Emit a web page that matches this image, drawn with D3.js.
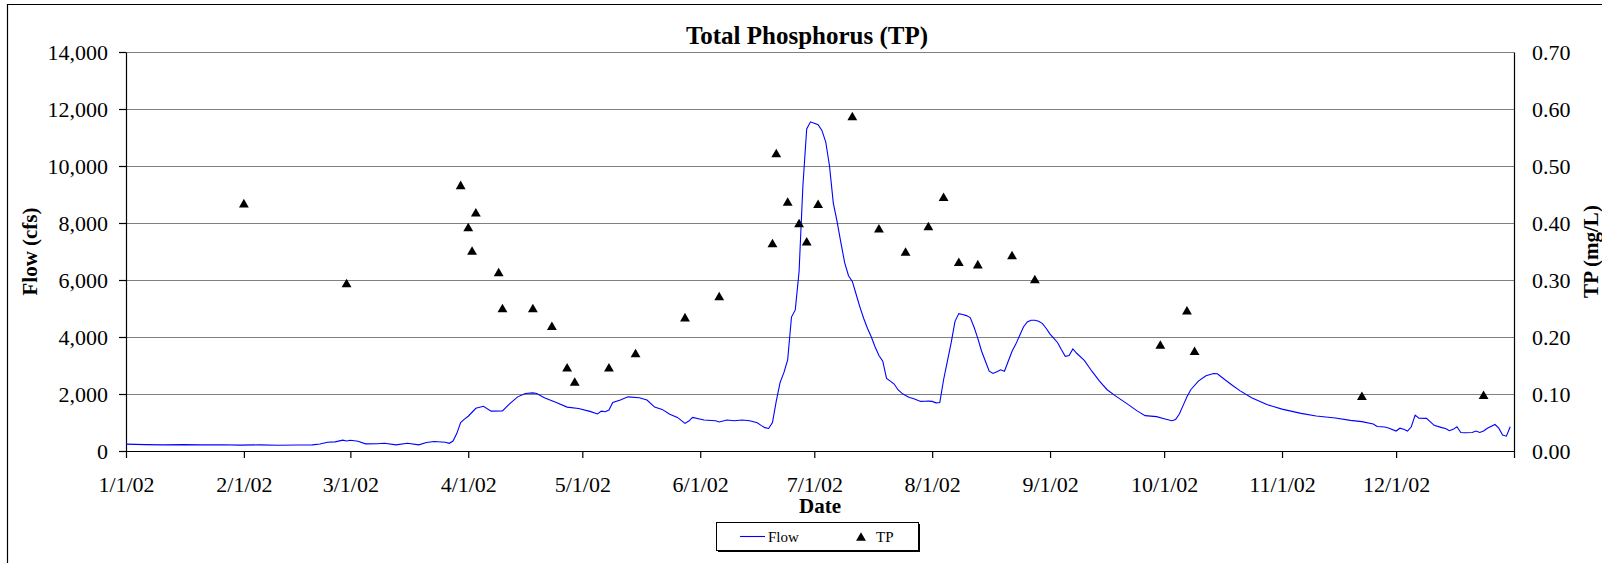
<!DOCTYPE html>
<html>
<head>
<meta charset="utf-8">
<title>Total Phosphorus (TP)</title>
<script src="https://cdn.jsdelivr.net/npm/d3@7"></script>
<style>
   body { margin: 0; background: #fff; }
   svg { display: block; font-family: "Liberation Serif", "Times New Roman", serif; }
</style>
</head>
<body>
<script>
'use strict';

// daily flow (cfs)
var flow = [
   ["2002-01-01", 240], ["2002-01-06", 225], ["2002-01-11", 215], ["2002-01-16", 225],
   ["2002-01-21", 215], ["2002-01-26", 220], ["2002-01-31", 205], ["2002-02-05", 215],
   ["2002-02-10", 200], ["2002-02-15", 210], ["2002-02-19", 215], ["2002-02-21", 246],
   ["2002-02-23", 305], ["2002-02-25", 320], ["2002-02-27", 380], ["2002-02-28", 350],
   ["2002-03-01", 375], ["2002-03-03", 340], ["2002-03-05", 250], ["2002-03-08", 255],
   ["2002-03-10", 270], ["2002-03-13", 215], ["2002-03-16", 270], ["2002-03-19", 215],
   ["2002-03-21", 300], ["2002-03-23", 335], ["2002-03-26", 305], ["2002-03-27", 270],
   ["2002-03-28", 350], ["2002-03-29", 620], ["2002-03-30", 1000], ["2002-03-31", 1120],
   ["2002-04-01", 1220], ["2002-04-03", 1500], ["2002-04-05", 1570], ["2002-04-07", 1400],
   ["2002-04-10", 1405], ["2002-04-12", 1670], ["2002-04-14", 1900], ["2002-04-16", 2020],
   ["2002-04-18", 2040], ["2002-04-19", 2020], ["2002-04-21", 1870], ["2002-04-24", 1710],
   ["2002-04-27", 1540], ["2002-04-30", 1490], ["2002-05-03", 1390], ["2002-05-05", 1300],
   ["2002-05-06", 1400], ["2002-05-07", 1380], ["2002-05-08", 1440], ["2002-05-09", 1700],
   ["2002-05-11", 1790], ["2002-05-13", 1900], ["2002-05-16", 1870], ["2002-05-18", 1790],
   ["2002-05-20", 1540], ["2002-05-22", 1460], ["2002-05-24", 1290], ["2002-05-26", 1180],
   ["2002-05-28", 970], ["2002-05-29", 1050], ["2002-05-30", 1180], ["2002-06-02", 1090],
   ["2002-06-05", 1064], ["2002-06-06", 1020], ["2002-06-08", 1090], ["2002-06-10", 1064],
   ["2002-06-12", 1090], ["2002-06-14", 1064], ["2002-06-16", 990], ["2002-06-17", 900],
   ["2002-06-18", 820], ["2002-06-19", 790], ["2002-06-20", 1000], ["2002-06-21", 1750],
   ["2002-06-22", 2400], ["2002-06-23", 2750], ["2002-06-24", 3200], ["2002-06-25", 4700],
   ["2002-06-26", 4950], ["2002-06-27", 6300], ["2002-06-28", 9300], ["2002-06-29", 11300],
   ["2002-06-30", 11550], ["2002-07-01", 11500], ["2002-07-02", 11450], ["2002-07-03", 11250],
   ["2002-07-04", 10850], ["2002-07-05", 10000], ["2002-07-06", 8700], ["2002-07-07", 8050],
   ["2002-07-08", 7300], ["2002-07-09", 6600], ["2002-07-10", 6150], ["2002-07-11", 5950],
   ["2002-07-12", 5500], ["2002-07-13", 5050], ["2002-07-14", 4650], ["2002-07-15", 4300],
   ["2002-07-16", 4000], ["2002-07-17", 3650], ["2002-07-18", 3350], ["2002-07-19", 3150],
   ["2002-07-20", 2550], ["2002-07-21", 2450], ["2002-07-22", 2350], ["2002-07-23", 2150],
   ["2002-07-24", 2030], ["2002-07-25", 1950], ["2002-07-26", 1880], ["2002-07-27", 1840],
   ["2002-07-28", 1790], ["2002-07-29", 1740], ["2002-07-30", 1745], ["2002-07-31", 1750],
   ["2002-08-01", 1740], ["2002-08-02", 1690], ["2002-08-03", 1700], ["2002-08-04", 2500],
   ["2002-08-05", 3150], ["2002-08-06", 3800], ["2002-08-07", 4550], ["2002-08-08", 4820],
   ["2002-08-09", 4790], ["2002-08-10", 4750], ["2002-08-11", 4680], ["2002-08-12", 4350],
   ["2002-08-13", 3950], ["2002-08-14", 3500], ["2002-08-15", 3150], ["2002-08-16", 2800],
   ["2002-08-17", 2720], ["2002-08-18", 2780], ["2002-08-19", 2850], ["2002-08-20", 2800],
   ["2002-08-21", 3150], ["2002-08-22", 3500], ["2002-08-23", 3750], ["2002-08-24", 4050],
   ["2002-08-25", 4350], ["2002-08-26", 4530], ["2002-08-27", 4590], ["2002-08-28", 4590],
   ["2002-08-29", 4550], ["2002-08-30", 4470], ["2002-08-31", 4300], ["2002-09-01", 4100],
   ["2002-09-02", 3950], ["2002-09-03", 3800], ["2002-09-04", 3550], ["2002-09-05", 3320],
   ["2002-09-06", 3350], ["2002-09-07", 3580], ["2002-09-08", 3430], ["2002-09-10", 3180],
   ["2002-09-12", 2800], ["2002-09-14", 2450], ["2002-09-16", 2150], ["2002-09-18", 1950],
   ["2002-09-21", 1680], ["2002-09-24", 1400], ["2002-09-26", 1240], ["2002-09-29", 1205],
   ["2002-10-01", 1130], ["2002-10-03", 1060], ["2002-10-04", 1100], ["2002-10-05", 1300],
   ["2002-10-06", 1600], ["2002-10-07", 1900], ["2002-10-08", 2150], ["2002-10-10", 2450],
   ["2002-10-12", 2640], ["2002-10-14", 2720], ["2002-10-15", 2710], ["2002-10-17", 2500],
   ["2002-10-19", 2300], ["2002-10-21", 2110], ["2002-10-24", 1870], ["2002-10-28", 1630],
   ["2002-11-01", 1470], ["2002-11-06", 1320], ["2002-11-10", 1230], ["2002-11-15", 1160],
   ["2002-11-19", 1075], ["2002-11-22", 1030], ["2002-11-25", 950], ["2002-11-26", 860],
   ["2002-11-28", 840], ["2002-11-29", 810], ["2002-12-01", 700], ["2002-12-02", 800],
   ["2002-12-03", 760], ["2002-12-04", 700], ["2002-12-05", 850], ["2002-12-06", 1260],
   ["2002-12-07", 1150], ["2002-12-09", 1146], ["2002-12-11", 900], ["2002-12-13", 820],
   ["2002-12-14", 790], ["2002-12-15", 710], ["2002-12-16", 760], ["2002-12-17", 850],
   ["2002-12-18", 650], ["2002-12-19", 640], ["2002-12-21", 650], ["2002-12-22", 700],
   ["2002-12-23", 650], ["2002-12-24", 700], ["2002-12-25", 800], ["2002-12-27", 930],
   ["2002-12-28", 800], ["2002-12-29", 560], ["2002-12-30", 520], ["2002-12-31", 850]
];

// grab samples (mg/L)
var tp = [
   ["2002-02-01", 0.435], ["2002-02-28", 0.295], ["2002-03-30", 0.467], ["2002-04-01", 0.393],
   ["2002-04-02", 0.352], ["2002-04-03", 0.419], ["2002-04-09", 0.314], ["2002-04-10", 0.251],
   ["2002-04-18", 0.251], ["2002-04-23", 0.220], ["2002-04-27", 0.147], ["2002-04-29", 0.122],
   ["2002-05-08", 0.147], ["2002-05-15", 0.172], ["2002-05-28", 0.235], ["2002-06-06", 0.272],
   ["2002-06-20", 0.365], ["2002-06-21", 0.523], ["2002-06-24", 0.438], ["2002-06-27", 0.400],
   ["2002-06-29", 0.368], ["2002-07-02", 0.434], ["2002-07-11", 0.588], ["2002-07-18", 0.391],
   ["2002-07-25", 0.350], ["2002-07-31", 0.395], ["2002-08-04", 0.446], ["2002-08-08", 0.332],
   ["2002-08-13", 0.328], ["2002-08-22", 0.344], ["2002-08-28", 0.302], ["2002-09-30", 0.187],
   ["2002-10-07", 0.247], ["2002-10-09", 0.176], ["2002-11-22", 0.097], ["2002-12-24", 0.099]
];

var flowTicks = [0, 2000, 4000, 6000, 8000, 10000, 12000, 14000];
var tpTicks = [0, 0.1, 0.2, 0.3, 0.4, 0.5, 0.6, 0.7];
var monthTicks = ["2002-01-01", "2002-02-01", "2002-03-01", "2002-04-01", "2002-05-01",
   "2002-06-01", "2002-07-01", "2002-08-01", "2002-09-01", "2002-10-01", "2002-11-01",
   "2002-12-01", "2003-01-01"];

var parseDate = d3.utcParse("%Y-%m-%d");
var dateLabel = d3.utcFormat("%-m/%-d/%y");

var width = 1602, height = 563;
var plot = { left: 126, right: 1514, top: 52, bottom: 451 };

var flowData = flow.map(function(d){ return { date: parseDate(d[0]), value: d[1] }; });
var tpData = tp.map(function(d){ return { date: parseDate(d[0]), value: d[1] }; });
var monthDates = monthTicks.map(parseDate);

var x = d3.scaleUtc()
   .domain([monthDates[0], monthDates[monthDates.length - 1]])
   .range([plot.left, plot.right]);
var yFlow = d3.scaleLinear().domain([0, 14000]).range([plot.bottom, plot.top]);
var yTP = d3.scaleLinear().domain([0, 0.7]).range([plot.bottom, plot.top]);

var svg = d3.select("body").append("svg")
   .attr("width", width)
   .attr("height", height);

svg.append("rect")
   .attr("width", width)
   .attr("height", height)
   .attr("fill", "#fff");

// chart area frame (right and bottom edges fall off the picture)
svg.append("path")
   .attr("d", "M7.5," + height + "V4.5H" + width)
   .attr("fill", "none")
   .attr("stroke", "#000")
   .attr("stroke-width", 1.2);

// gridlines
svg.append("g").selectAll("line")
   .data(flowTicks.slice(1))
   .enter().append("line")
   .attr("x1", plot.left)
   .attr("x2", plot.right)
   .attr("y1", function(d){ return Math.round(yFlow(d)) + 0.5; })
   .attr("y2", function(d){ return Math.round(yFlow(d)) + 0.5; })
   .attr("stroke", "#808080")
   .attr("stroke-width", 1.2);

function styleAxis(g){
   g.attr("font-family", null).attr("font-size", 22);
   g.selectAll("path, line").attr("stroke", "#000").attr("stroke-width", 1.2);
}

svg.append("g")
   .attr("transform", "translate(0," + plot.bottom + ")")
   .call(d3.axisBottom(x)
      .tickValues(monthDates)
      .tickSize(7)
      .tickSizeOuter(0)
      .tickPadding(18)
      .tickFormat(function(d, i){ return i < 12 ? dateLabel(d) : ""; }))
   .call(styleAxis);

svg.append("g")
   .attr("transform", "translate(" + plot.left + ",0)")
   .call(d3.axisLeft(yFlow)
      .tickValues(flowTicks)
      .tickSize(7)
      .tickSizeOuter(0)
      .tickPadding(11)
      .tickFormat(d3.format(",")))
   .call(styleAxis);

svg.append("g")
   .attr("transform", "translate(" + plot.right + ",0)")
   .call(d3.axisRight(yTP)
      .tickValues(tpTicks)
      .tickSize(0)
      .tickSizeOuter(0)
      .tickPadding(18)
      .tickFormat(d3.format(".2f")))
   .call(styleAxis);

// flow line
var flowLine = d3.line()
   .x(function(d){ return x(d.date); })
   .y(function(d){ return yFlow(d.value); });

svg.append("path")
   .datum(flowData)
   .attr("d", flowLine)
   .attr("fill", "none")
   .attr("stroke", "#0000ff")
   .attr("stroke-width", 1.1);

// TP markers
var triangle = d3.symbol().type(d3.symbolTriangle).size(42);

svg.append("g").selectAll("path")
   .data(tpData)
   .enter().append("path")
   .attr("d", triangle)
   .attr("transform", function(d){
      return "translate(" + x(d.date) + "," + (yTP(d.value) + 1.5) + ")";
   })
   .attr("fill", "#000");

// titles
svg.append("text")
   .attr("x", 807)
   .attr("y", 44)
   .attr("text-anchor", "middle")
   .attr("font-weight", "bold")
   .attr("font-size", 25)
   .text("Total Phosphorus (TP)");

svg.append("text")
   .attr("x", (plot.left + plot.right) / 2)
   .attr("y", 513)
   .attr("text-anchor", "middle")
   .attr("font-weight", "bold")
   .attr("font-size", 21)
   .text("Date");

svg.append("text")
   .attr("transform", "translate(37," + (plot.top + plot.bottom) / 2 + ") rotate(-90)")
   .attr("text-anchor", "middle")
   .attr("font-weight", "bold")
   .attr("font-size", 21)
   .text("Flow (cfs)");

svg.append("text")
   .attr("transform", "translate(1598," + (plot.top + plot.bottom) / 2 + ") rotate(-90)")
   .attr("text-anchor", "middle")
   .attr("font-weight", "bold")
   .attr("font-size", 21)
   .text("TP (mg/L)");

// legend
var legend = svg.append("g").attr("transform", "translate(716,522)");

legend.append("rect")
   .attr("x", 2).attr("y", 2)
   .attr("width", 202).attr("height", 28)
   .attr("fill", "#000");

legend.append("rect")
   .attr("x", 0.5).attr("y", 0.5)
   .attr("width", 202).attr("height", 28)
   .attr("fill", "#fff")
   .attr("stroke", "#000");

legend.append("line")
   .attr("x1", 24).attr("x2", 49)
   .attr("y1", 14.5).attr("y2", 14.5)
   .attr("stroke", "#0000ff")
   .attr("stroke-width", 1.1);

legend.append("text")
   .attr("x", 52).attr("y", 20)
   .attr("font-size", 15)
   .text("Flow");

legend.append("path")
   .attr("d", triangle)
   .attr("transform", "translate(145,16)")
   .attr("fill", "#000");

legend.append("text")
   .attr("x", 160).attr("y", 20)
   .attr("font-size", 15)
   .text("TP");
</script>
</body>
</html>
